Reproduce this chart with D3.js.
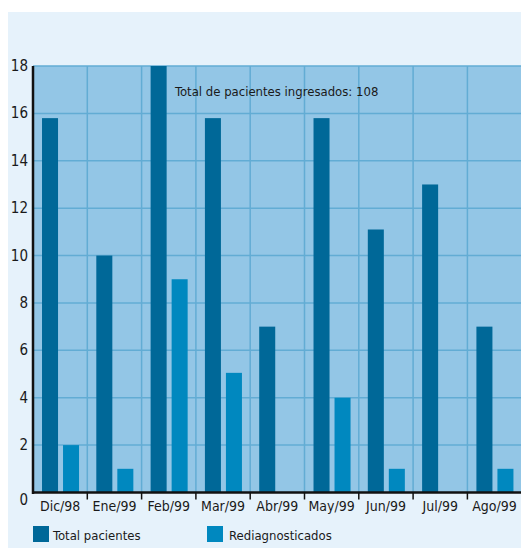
<!DOCTYPE html>
<html>
  <head>
    <meta charset="utf-8" />
    <title>Pacientes ingresados</title>
    <script src="https://d3js.org/d3.v7.min.js"></script>
    <style>
      body { margin: 0; background: #fff; }
      text { font-family: "Liberation Sans Narrow", "DejaVu Sans Condensed", "Arial Narrow", sans-serif; fill: #1a1a1a; }
    </style>
  </head>
  <body>
    <svg width="521" height="548"></svg>
    <script>
      var months = ["Dic/98", "Ene/99", "Feb/99", "Mar/99", "Abr/99", "May/99", "Jun/99", "Jul/99", "Ago/99"];
      var totalPacientes = [15.8, 10, 18, 15.8, 7, 15.8, 11.1, 13, 7];
      var rediagnosticados = [2, 1, 9, 5.05, 0, 4, 1, 0, 1];
      var yTicks = [0, 2, 4, 6, 8, 10, 12, 14, 16, 18];
      var seriesNames = ["Total pacientes", "Rediagnosticados"];
      var colors = ["#006898", "#0088bf"];

      var svg = d3.select("svg");

      // fondo general
      svg.append("rect")
        .attr("x", 8).attr("y", 12)
        .attr("width", 513).attr("height", 536)
        .attr("fill", "#e6f2fb");

      var plotLeft = 33, plotRight = 521.7, plotTop = 66, plotBottom = 492.5;

      var x = d3.scaleBand().domain(months).range([plotLeft, plotRight]);
      var y = d3.scaleLinear().domain([0, 18]).range([plotBottom, plotTop]);

      svg.append("rect")
        .attr("x", plotLeft).attr("y", plotTop)
        .attr("width", plotRight - plotLeft).attr("height", plotBottom - plotTop)
        .attr("fill", "#93c6e6");

      // rejilla
      svg.append("g")
        .selectAll("line")
        .data(yTicks.slice(1))
        .join("line")
        .attr("x1", plotLeft).attr("x2", plotRight)
        .attr("y1", function (d) { return y(d); })
        .attr("y2", function (d) { return y(d); })
        .attr("stroke", "#62acd4")
        .attr("stroke-width", 1.5);

      svg.append("g")
        .selectAll("line")
        .data(months.slice(1))
        .join("line")
        .attr("x1", function (d) { return x(d); })
        .attr("x2", function (d) { return x(d); })
        .attr("y1", plotTop).attr("y2", plotBottom)
        .attr("stroke", "#62acd4")
        .attr("stroke-width", 1.5);

      // barras
      var bw = x.bandwidth();
      var series = [totalPacientes, rediagnosticados];
      series.forEach(function (vals, si) {
        svg.append("g")
          .selectAll("rect")
          .data(vals)
          .join("rect")
          .attr("x", function (d, i) { return x(months[i]) + bw * (si === 0 ? 0.166 : 0.553); })
          .attr("width", bw * 0.295)
          .attr("y", function (d) { return y(d); })
          .attr("height", function (d) { return plotBottom - y(d); })
          .attr("fill", colors[si]);
      });

      // ejes
      svg.append("line")
        .attr("x1", plotLeft).attr("x2", plotLeft)
        .attr("y1", plotTop).attr("y2", plotBottom + 1.5)
        .attr("stroke", "#111").attr("stroke-width", 2.5);
      svg.append("line")
        .attr("x1", plotLeft - 1).attr("x2", plotRight)
        .attr("y1", plotBottom).attr("y2", plotBottom)
        .attr("stroke", "#111").attr("stroke-width", 2.5);

      svg.append("g")
        .selectAll("line")
        .data(months.slice(1))
        .join("line")
        .attr("x1", function (d) { return x(d); })
        .attr("x2", function (d) { return x(d); })
        .attr("y1", plotBottom).attr("y2", plotBottom + 7)
        .attr("stroke", "#111").attr("stroke-width", 1.5);

      svg.append("g")
        .selectAll("text")
        .data(yTicks)
        .join("text")
        .attr("x", 28)
        .attr("y", function (d) { return y(d) + (d === 0 ? 12 : 5); })
        .attr("text-anchor", "end")
        .attr("font-size", 15)
        .text(function (d) { return d; });

      svg.append("g")
        .selectAll("text")
        .data(months)
        .join("text")
        .attr("x", function (d) { return x(d) + bw / 2; })
        .attr("y", 511)
        .attr("text-anchor", "middle")
        .attr("font-size", 14)
        .text(function (d) { return d; });

      svg.append("text")
        .attr("x", 175).attr("y", 96)
        .attr("font-size", 13)
        .text("Total de pacientes ingresados: 108");

      // leyenda
      var legendX = [33, 207];
      seriesNames.forEach(function (name, i) {
        svg.append("rect")
          .attr("x", legendX[i]).attr("y", 526)
          .attr("width", 16).attr("height", 16)
          .attr("fill", colors[i]);
        svg.append("text")
          .attr("x", legendX[i] + 20 + i * 2).attr("y", 540)
          .attr("font-size", 13)
          .text(name);
      });
    </script>
  </body>
</html>
